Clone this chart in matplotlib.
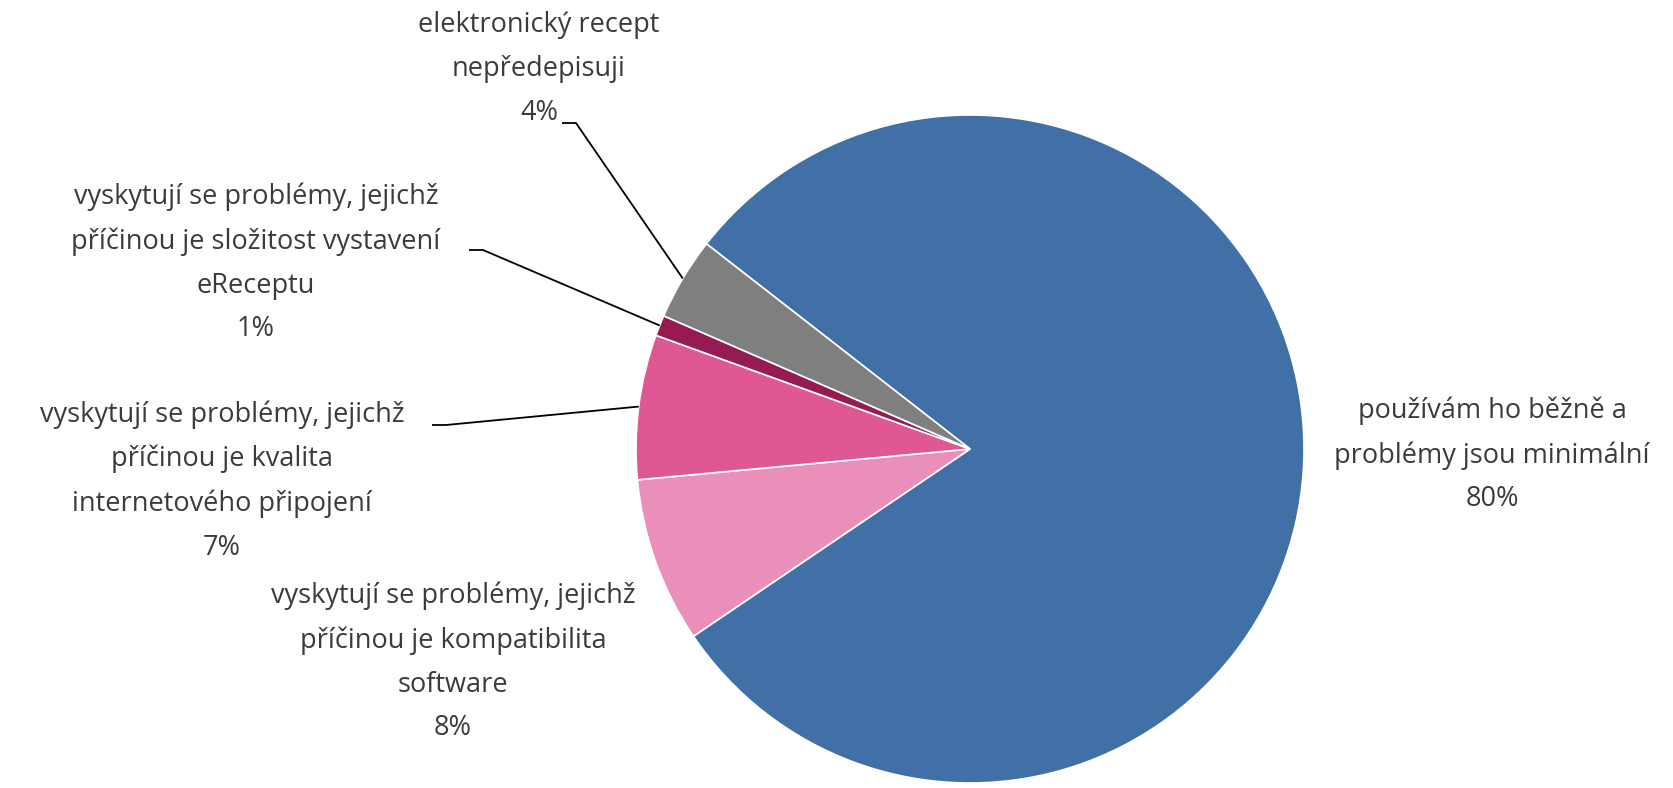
import numpy as np
import matplotlib
matplotlib.use("Agg")
import matplotlib.pyplot as plt

plt.rcParams['font.family'] = ['Open Sans', 'DejaVu Sans']

# answers, in clockwise drawing order starting from the top-left edge of the big slice
labels = [
    "používám ho běžně a\nproblémy jsou minimální",
    "vyskytují se problémy, jejichž\npříčinou je kompatibilita\nsoftware",
    "vyskytují se problémy, jejichž\npříčinou je kvalita\ninternetového připojení",
    "vyskytují se problémy, jejichž\npříčinou je složitost vystavení\neReceptu",
    "elektronický recept\nnepředepisuji",
]
shares = [80, 8, 7, 1, 4]
colors = ["#4170A7", "#E98FB9", "#DF5894", "#961B52", "#7F7F7F"]

W, H = 1673, 788
fig = plt.figure(figsize=(W / 100, H / 100), dpi=100)
ax = fig.add_axes([0, 0, 1, 1])

cx, cy, r = 970, H - 449, 334
start = 142.1
wedges, _ = ax.pie(shares, colors=colors, startangle=start, counterclock=False,
                   center=(cx, cy), radius=r, frame=True,
                   wedgeprops=dict(edgecolor="white", linewidth=1.2))
ax.set_xlim(0, W)
ax.set_ylim(0, H)
ax.set_aspect("equal")
ax.axis("off")

# label block centres (x, y from top) and leader line start, None = no leader
label_pos = [(1492, 455), (453, 662), (222, 481), (256, 263), (539, 69)]
leader_start = [None, None, (432, 425), (469, 250), (562, 123)]

txt_color = "#3B3B3B"
for w, lab, share, pos, ls in zip(wedges, labels, shares, label_pos, leader_start):
    ax.text(pos[0], H - pos[1], f"{lab}\n{share}%", ha="center", va="center",
            fontsize=19.5, color=txt_color, linespacing=1.75)
    if ls is not None:
        mid = np.deg2rad((w.theta1 + w.theta2) / 2)
        ex, ey = cx + r * np.cos(mid), cy + r * np.sin(mid)
        ax.plot([ls[0], ls[0] + 14, ex], [H - ls[1], H - ls[1], ey],
                color="black", lw=1.3, solid_capstyle="butt")

fig.savefig("out.png", dpi=100, facecolor="white")
